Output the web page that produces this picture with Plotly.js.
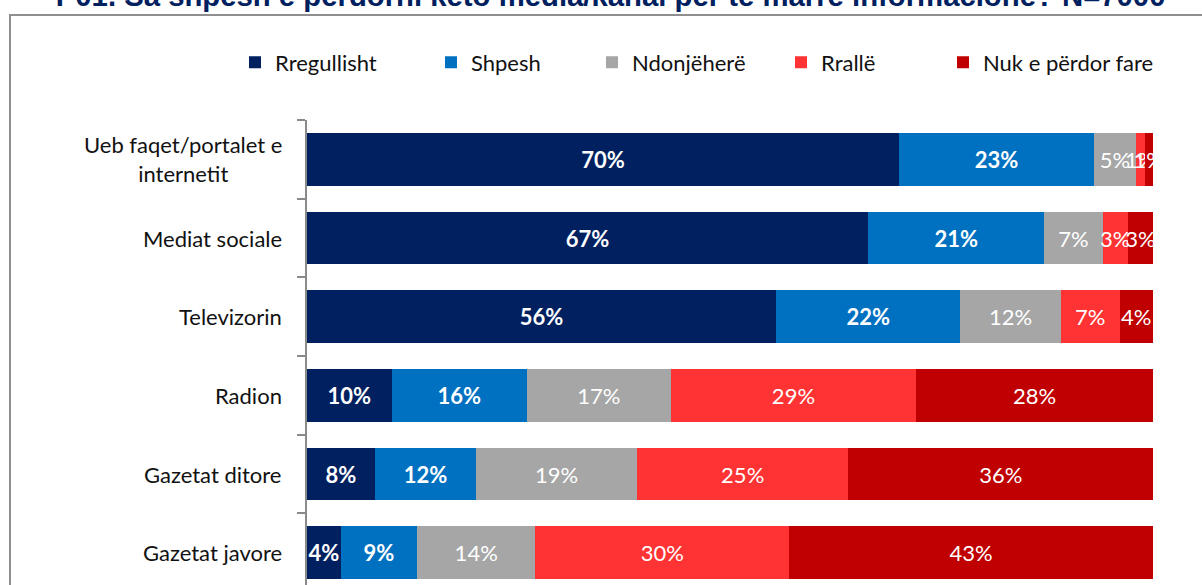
<!DOCTYPE html>
<html>
<head>
<meta charset="utf-8">
<script src="https://cdn.plot.ly/plotly-3.0.1.min.js"></script>
<style>
  html, body { margin: 0; padding: 0; overflow: hidden; background: #fff; width: 1202px; height: 585px; }
  #chart { position: absolute; left: 0; top: -20px; width: 1202px; height: 630px; }
  #frame { position: absolute; left: 9px; top: 14px; width: 1400px; height: 800px;
           border-top: 2px solid #8f8f8f; border-left: 2px solid #8f8f8f; pointer-events: none; z-index: 10; }
</style>
</head>
<body>
<div id="chart"></div>
<div id="frame"></div>
<script>
// ---- data ----
const titleText = "P01. Sa shpesh e përdorni këto media/kanal për të marrë informacione? N=7000";
const categories = ["Ueb faqet/portalet e<br>internetit", "Mediat sociale", "Televizorin", "Radion", "Gazetat ditore", "Gazetat javore"];
const seriesNames = ["Rregullisht", "Shpesh", "Ndonjëherë", "Rrallë", "Nuk e përdor fare"];
const rregullisht = [70, 67, 56, 10, 8, 4];
const shpesh      = [23, 21, 22, 16, 12, 9];
const ndonjehere  = [5, 7, 12, 17, 19, 14];
const ralle       = [1, 3, 7, 29, 25, 30];
const nukPerdor   = [1, 3, 4, 28, 36, 43];

// ---- styles / layout ----
const seriesValues = [rregullisht, shpesh, ndonjehere, ralle, nukPerdor];
const colors = ["#002060", "#0070C0", "#A6A6A6", "#FF3333", "#C00000"];
const boldLabels = [true, true, false, false, false];
const FONT = "Lato, 'Open Sans', sans-serif";

const W = 1202, H = 630;
const M = { l: 307, r: 49, t: 139.6, b: 18 };
const plotW = W - M.l - M.r;
const plotH = H - M.t - M.b;
const pxToPaperX = px => (px - M.l) / plotW;
const legendLeftPx = [235, 431, 592, 781, 943];   // legend entry positions (page px)
const legendYpx = 62 + 20;                         // legend centre (figure px)
const legendNames = ["legend", "legend2", "legend3", "legend4", "legend5"];

const traces = seriesValues.map((vals, i) => ({
  type: "bar",
  orientation: "h",
  name: seriesNames[i],
  legend: legendNames[i],
  y: categories,
  x: vals,
  text: vals.map(v => v + "%"),
  textposition: "inside",
  insidetextanchor: "middle",
  textangle: 0,
  constraintext: "none",
  cliponaxis: false,
  textfont: { family: FONT, size: 22, color: "#ffffff", weight: boldLabels[i] ? "bold" : "normal" },
  marker: { color: colors[i], line: { width: 0 } },
  hoverinfo: "skip"
}));

const annotations = categories.map(c => ({
  xref: "paper", yref: "y",
  x: 0, y: c,
  xanchor: "right", yanchor: "middle",
  xshift: -23,
  align: "center",
  text: c,
  showarrow: false,
  font: { family: FONT, size: 22, color: "#111111" }
}));

const layout = {
  width: W,
  height: H,
  margin: { l: M.l, r: M.r, t: M.t, b: M.b, pad: 0 },
  paper_bgcolor: "#ffffff",
  plot_bgcolor: "#ffffff",
  barmode: "stack",
  barnorm: "percent",
  bargap: 0.327,
  showlegend: true,
  title: {
    text: titleText,
    font: { family: "'Liberation Sans', Arial, sans-serif", size: 29.3, color: "#002060", weight: "bold" },
    x: 0.508, xanchor: "center",
    y: 1 - 15.5 / H, yanchor: "middle", yref: "container"
  },
  xaxis: { range: [0, 100], visible: false, fixedrange: true },
  yaxis: {
    type: "category",
    autorange: "reversed",
    showline: true, linecolor: "#8a8a8a", linewidth: 2,
    ticks: "outside", tickson: "boundaries", ticklen: 8, tickwidth: 2, tickcolor: "#8a8a8a",
    showticklabels: false, showgrid: false, zeroline: false, fixedrange: true
  },
  annotations: annotations
};

legendNames.forEach((ln, i) => {
  layout[ln] = {
    orientation: "h",
    x: pxToPaperX(legendLeftPx[i]), xanchor: "left",
    y: (H - M.b - legendYpx) / plotH, yanchor: "middle",
    font: { family: FONT, size: 22, color: "#111111" },
    bgcolor: "rgba(0,0,0,0)",
    borderwidth: 0
  };
});

Plotly.newPlot("chart", traces, layout, { displayModeBar: false, staticPlot: true });
</script>
</body>
</html>
